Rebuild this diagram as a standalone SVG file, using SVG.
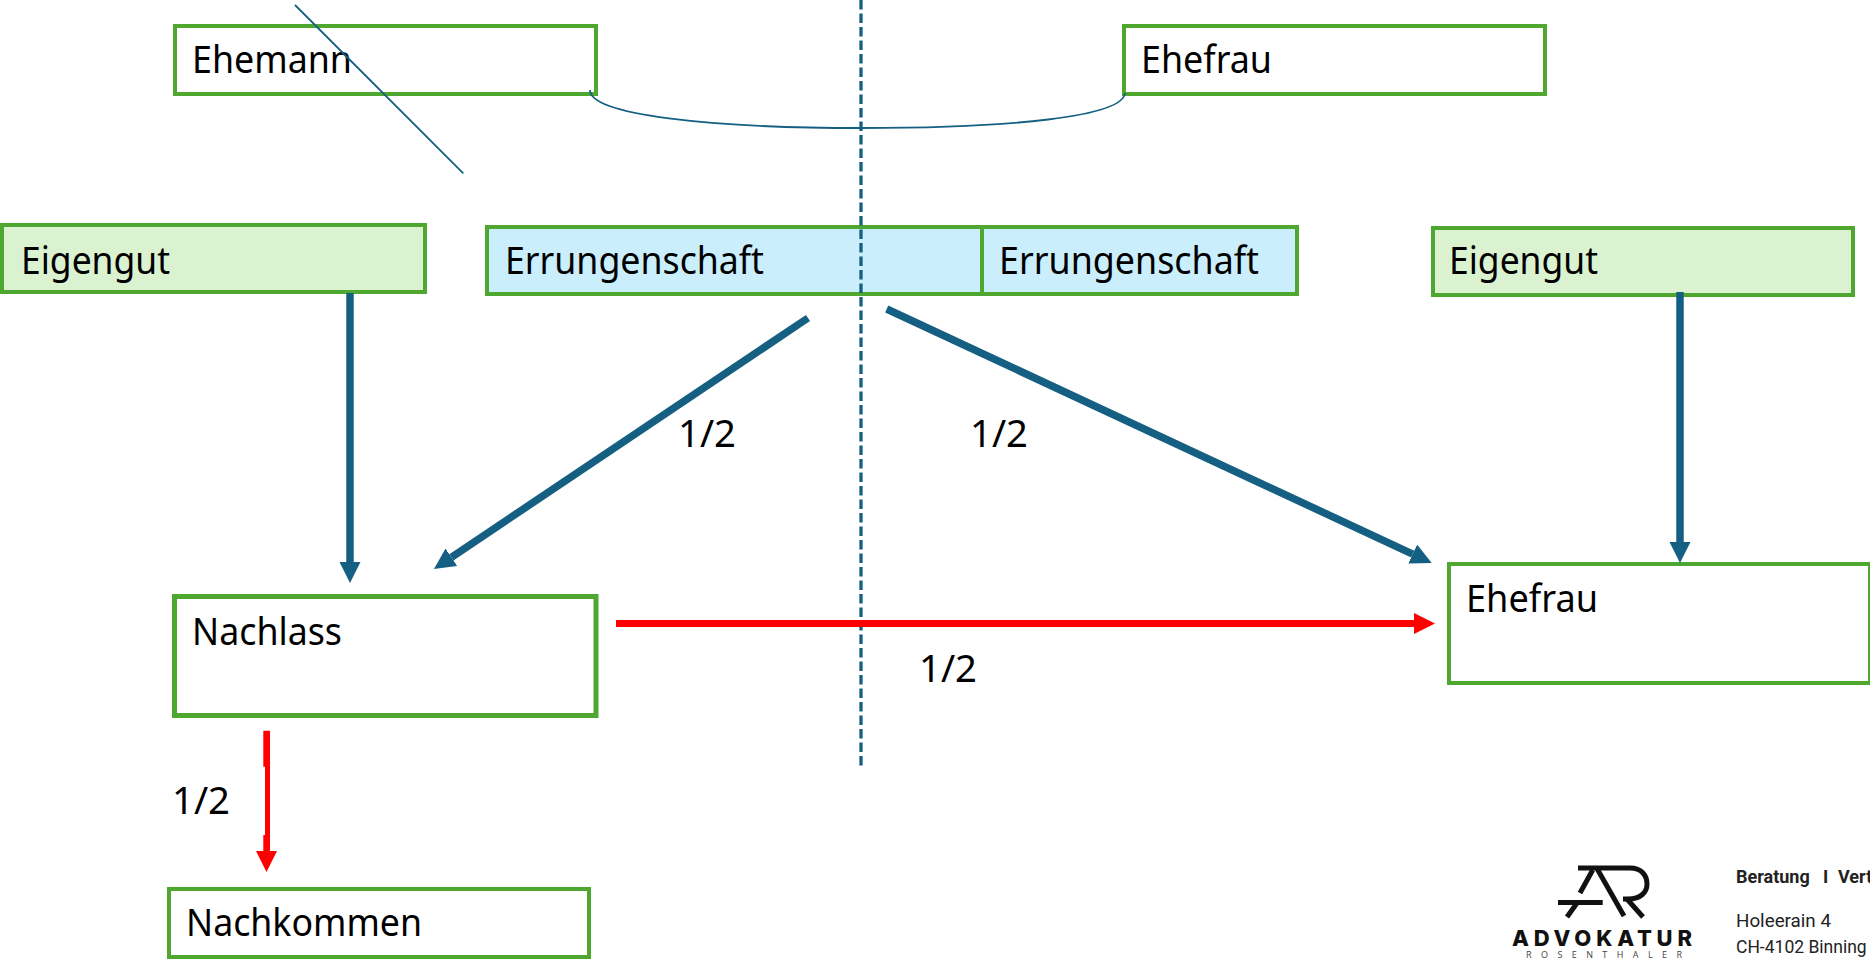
<svg xmlns="http://www.w3.org/2000/svg" width="1870" height="960" viewBox="0 0 1870 960">
<style>
.box{fill:#fff;stroke:#4EA72E;stroke-width:4}
.thick{stroke-width:5}
.green{fill:#DAF2D0}
.blue{fill:#CAEEFB}
.t{font-family:"Noto Sans","Open Sans",sans-serif;font-size:38px;fill:#000}
.f{font-family:Roboto,"Noto Sans",sans-serif;font-size:18.800px;fill:#222}
.b{stroke:#156082;fill:none}
.ba{stroke:#156082;stroke-width:7.500;fill:none}
.ra{stroke:#FF0000;stroke-width:7;fill:none}
.mark{stroke:#111;stroke-width:5;fill:none}
</style>
<defs>
<marker id="hb" markerUnits="userSpaceOnUse" markerWidth="22" markerHeight="22" refX="0" refY="10.500" orient="auto"><path d="M0 0L21 10.500L0 21Z" fill="#156082"/></marker>
<marker id="hr" markerUnits="userSpaceOnUse" markerWidth="22" markerHeight="22" refX="0" refY="10.500" orient="auto"><path d="M0 0L21 10.500L0 21Z" fill="#FF0000"/></marker>
</defs>
<g id="ehemann"><rect class="box" x="175" y="26" width="421" height="68"/><text class="t" x="192" y="73" textLength="160" lengthAdjust="spacingAndGlyphs">Ehemann</text></g>
<g id="ehefrau-top"><rect class="box" x="1124" y="26" width="421" height="68"/><text class="t" x="1141" y="73" textLength="131" lengthAdjust="spacingAndGlyphs">Ehefrau</text></g>
<g id="eigengut-left"><rect class="box green" x="2" y="225" width="423" height="67"/><text class="t" x="21" y="274" textLength="149" lengthAdjust="spacingAndGlyphs">Eigengut</text></g>
<g id="errungenschaft-left"><rect class="box blue" x="487" y="227" width="495" height="67"/><text class="t" x="505" y="274" textLength="259" lengthAdjust="spacingAndGlyphs">Errungenschaft</text></g>
<g id="errungenschaft-right"><rect class="box blue" x="982" y="227" width="315" height="67"/><text class="t" x="999" y="274" textLength="260" lengthAdjust="spacingAndGlyphs">Errungenschaft</text></g>
<g id="eigengut-right"><rect class="box green" x="1433" y="228" width="420" height="67"/><text class="t" x="1449" y="274" textLength="149" lengthAdjust="spacingAndGlyphs">Eigengut</text></g>
<g id="nachlass"><rect class="box thick" x="174.500" y="596.500" width="421.500" height="119"/><text class="t" x="192" y="645" textLength="150" lengthAdjust="spacingAndGlyphs">Nachlass</text></g>
<g id="ehefrau-bottom"><rect class="box" x="1449" y="564" width="421" height="119"/><text class="t" x="1466" y="612" textLength="132" lengthAdjust="spacingAndGlyphs">Ehefrau</text></g>
<g id="nachkommen"><rect class="box" x="169" y="889" width="420" height="68"/><text class="t" x="186" y="936" textLength="236" lengthAdjust="spacingAndGlyphs">Nachkommen</text></g>
<g id="connectors">
<line class="b" x1="861" y1="0" x2="861" y2="766" stroke-width="3.300" stroke-dasharray="9.500 4"/>
<line class="b" x1="295" y1="5" x2="463.300" y2="173.300" stroke-width="1.800"/>
<path class="b" stroke-width="1.800" d="M590 90C590 115 710 128 861 128C1010 128 1123 117 1125 93"/>
<line class="ba" x1="350" y1="293" x2="350" y2="562" marker-end="url(#hb)"/>
<line class="ba" x1="808" y1="318" x2="451.400" y2="557.300" marker-end="url(#hb)"/>
<line class="ba" x1="886.700" y1="309" x2="1412.700" y2="554.100" marker-end="url(#hb)"/>
<line class="ba" x1="1680" y1="292" x2="1680" y2="542" marker-end="url(#hb)"/>
<line class="ra" x1="616" y1="623.500" x2="1414" y2="623.500" marker-end="url(#hr)"/>
<path fill="#FF0000" d="M263.300 730.700H270V851H277L266.500 872L256 851H263.300V835H265V766.700H263.300Z"/>
</g>
<g id="labels">
<text class="t" x="678" y="447" textLength="58" lengthAdjust="spacingAndGlyphs">1/2</text>
<text class="t" x="970" y="447" textLength="58" lengthAdjust="spacingAndGlyphs">1/2</text>
<text class="t" x="919" y="682" textLength="58" lengthAdjust="spacingAndGlyphs">1/2</text>
<text class="t" x="172" y="814" textLength="58" lengthAdjust="spacingAndGlyphs">1/2</text>
</g>
<g id="footer">
<path class="mark" d="M1578 868H1630C1642 868 1647 876 1647 884C1647 892 1641 899 1628 899H1623"/>
<path class="mark" d="M1592.700 870L1580 893M1596.700 868L1624 916M1627 899L1643 917M1577 903L1567 917"/>
<line class="mark" stroke-width="4" x1="1558" y1="902.500" x2="1602.700" y2="902.500"/>
<text x="1512" y="946" font-family="Inter,'Open Sans',sans-serif" font-weight="800" font-size="22" fill="#111" textLength="180" lengthAdjust="spacing">ADVOKATUR</text>
<text x="1526" y="958" font-family="'Open Sans',sans-serif" font-size="9" fill="#444" textLength="156" lengthAdjust="spacing">ROSENTHALER</text>
<text class="f" y="883" style="font-size:18px;font-weight:700"><tspan x="1736">Beratung</tspan><tspan x="1823">I</tspan><tspan x="1838">Vert</tspan></text>
<text class="f" x="1736" y="927">Holeerain 4</text>
<text class="f" x="1736" y="953" style="font-size:17.500px">CH-4102 Binning</text>
</g>
</svg>
